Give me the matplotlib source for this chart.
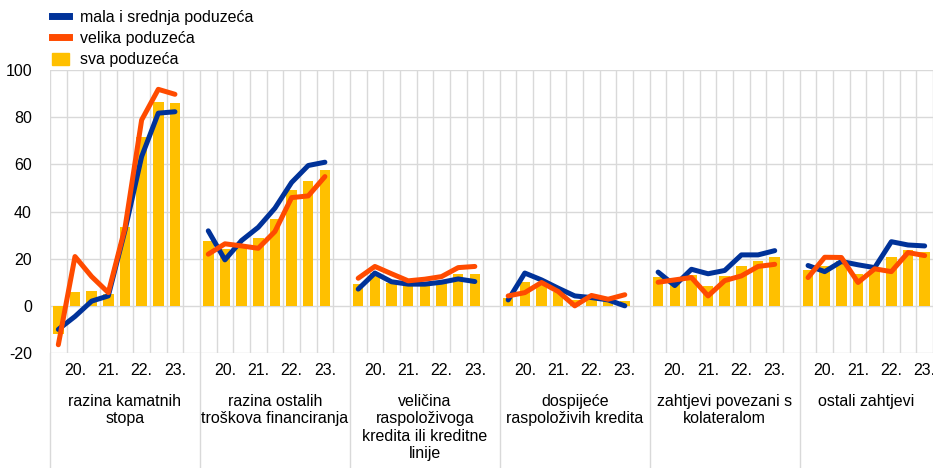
import numpy as np
import matplotlib
matplotlib.use("Agg")
import matplotlib.pyplot as plt
from matplotlib.lines import Line2D
from matplotlib.patches import Patch

plt.rcParams['font.family'] = ['Liberation Sans', 'DejaVu Sans']
plt.rcParams['axes.unicode_minus'] = False

# kategorije
kategorije = ["razina kamatnih\nstopa",
              "razina ostalih\ntroškova financiranja",
              "veličina\nraspoloživoga\nkredita ili kreditne\nlinije",
              "dospijeće\nraspoloživih kredita",
              "zahtjevi povezani s\nkolateralom",
              "ostali zahtjevi"]
godine = ["20.", "21.", "22.", "23."]

# sva poduzeća (stupci)
sva = [[-12, 6, 6.5, 5, 33.6, 71.5, 86.6, 85.9],
       [27.6, 24, 25, 28.8, 36.9, 49, 53, 57.6],
       [9.2, 14, 9.6, 8.9, 8.9, 9.8, 13.6, 13.6],
       [3.2, 10.3, 9.5, 6, 2.5, 2.5, 2.1, 2.1],
       [12.3, 11, 13.1, 8.6, 12.7, 17, 19.1, 20.5],
       [15, 16.7, 18.8, 13.6, 15.3, 20.5, 23.7, 23]]
# mala i srednja poduzeća
msp = [[-10, -4.5, 2, 4.2, 32, 63.3, 81.7, 82.3],
       [31.8, 19.5, 27.7, 33.3, 41.4, 52.3, 59.5, 60.9],
       [7.1, 13.9, 10.2, 9.2, 9.2, 10, 11.4, 10.3],
       [2.5, 13.9, 11, 7.5, 4.2, 3.5, 2.5, 0],
       [14.3, 8.6, 15.5, 13.6, 15, 21.6, 21.6, 23.4],
       [17.1, 14.5, 18.8, 17.4, 16.2, 27.2, 25.8, 25.4]]
# velika poduzeća
velika = [[-16.5, 20.9, 12.4, 5.6, 33, 78.8, 91.8, 89.7],
          [21.9, 26.3, 25.4, 24.4, 31.5, 45.9, 46.6, 54.8],
          [11.7, 16.7, 13.6, 10.6, 11.3, 12.4, 16.2, 16.7],
          [4.2, 5.6, 9.9, 6.1, 0, 4.4, 2.8, 4.7],
          [10, 11, 12, 4.2, 10.7, 12.7, 16.7, 17.6],
          [12, 20.6, 20.5, 9.9, 15.7, 14.5, 22.6, 21.3]]

plava = '#003299'
narancasta = '#FF4B00'
zuta = '#FFC000'
siva = '#d9d9d9'

fig = plt.figure(figsize=(9.33, 4.68), dpi=100)
ax = fig.add_axes([50/933, 1-353/468, 883/933, 283/468])

n = len(sva[0])
korak = n + 1
for g in range(len(kategorije)):
    x = np.arange(n) + korak*g
    ax.bar(x, sva[g], width=0.63, color=zuta, zorder=2)
    ax.plot(x, msp[g], color=plava, lw=3.6, solid_capstyle='round',
            solid_joinstyle='round', zorder=3)
    ax.plot(x, velika[g], color=narancasta, lw=3.6, solid_capstyle='round',
            solid_joinstyle='round', zorder=4)

xmax = korak*(len(kategorije)-1) + n - 0.5
ax.set_xlim(-0.5, xmax)
ax.set_ylim(-20, 100)
ax.set_yticks(np.arange(-20, 101, 20))

# vertikalna mreža
ax.set_xticks(np.arange(-0.5, xmax + 0.1, 1), minor=True)
ax.grid(which='minor', axis='x', color=siva, lw=1, zorder=0)
ax.grid(which='major', axis='y', color=siva, lw=1, zorder=0)

# oznake godina
pos = []
lab = []
for g in range(len(kategorije)):
    for k, god in enumerate(godine):
        pos.append(korak*g + 2*k + 1)
        lab.append(god)
ax.set_xticks(pos)
ax.set_xticklabels(lab)
ax.tick_params(which='both', length=0, labelsize=11.5)
ax.tick_params(axis='x', pad=7)
ax.tick_params(axis='y', pad=13)
for s in ax.spines.values():
    s.set_visible(False)

# nazivi kategorija i razdjelnici
trans = ax.get_xaxis_transform()
for g, naziv in enumerate(kategorije):
    if g < len(kategorije) - 1:
        sredina = korak*g + n/2
    else:
        sredina = korak*g + (n-1)/2
    ax.text(sredina, -0.145, naziv, transform=trans, ha='center', va='top',
            fontsize=11.5, linespacing=1.2)
    ax.add_line(Line2D([korak*g - 0.5]*2, [0, -0.41], transform=trans,
                       color=siva, lw=1, clip_on=False))

ruke = [Line2D([], [], color=plava, lw=5),
        Line2D([], [], color=narancasta, lw=5),
        Patch(color=zuta)]
fig.legend(ruke, ["mala i srednja poduzeća", "velika poduzeća", "sva poduzeća"],
           loc='upper left', bbox_to_anchor=(42/933, 1.0), frameon=False,
           fontsize=11.5, handlelength=1.1, handleheight=0.8,
           handletextpad=0.7, labelspacing=0.4, borderaxespad=0.2)

fig.savefig("out.png", dpi=100)
